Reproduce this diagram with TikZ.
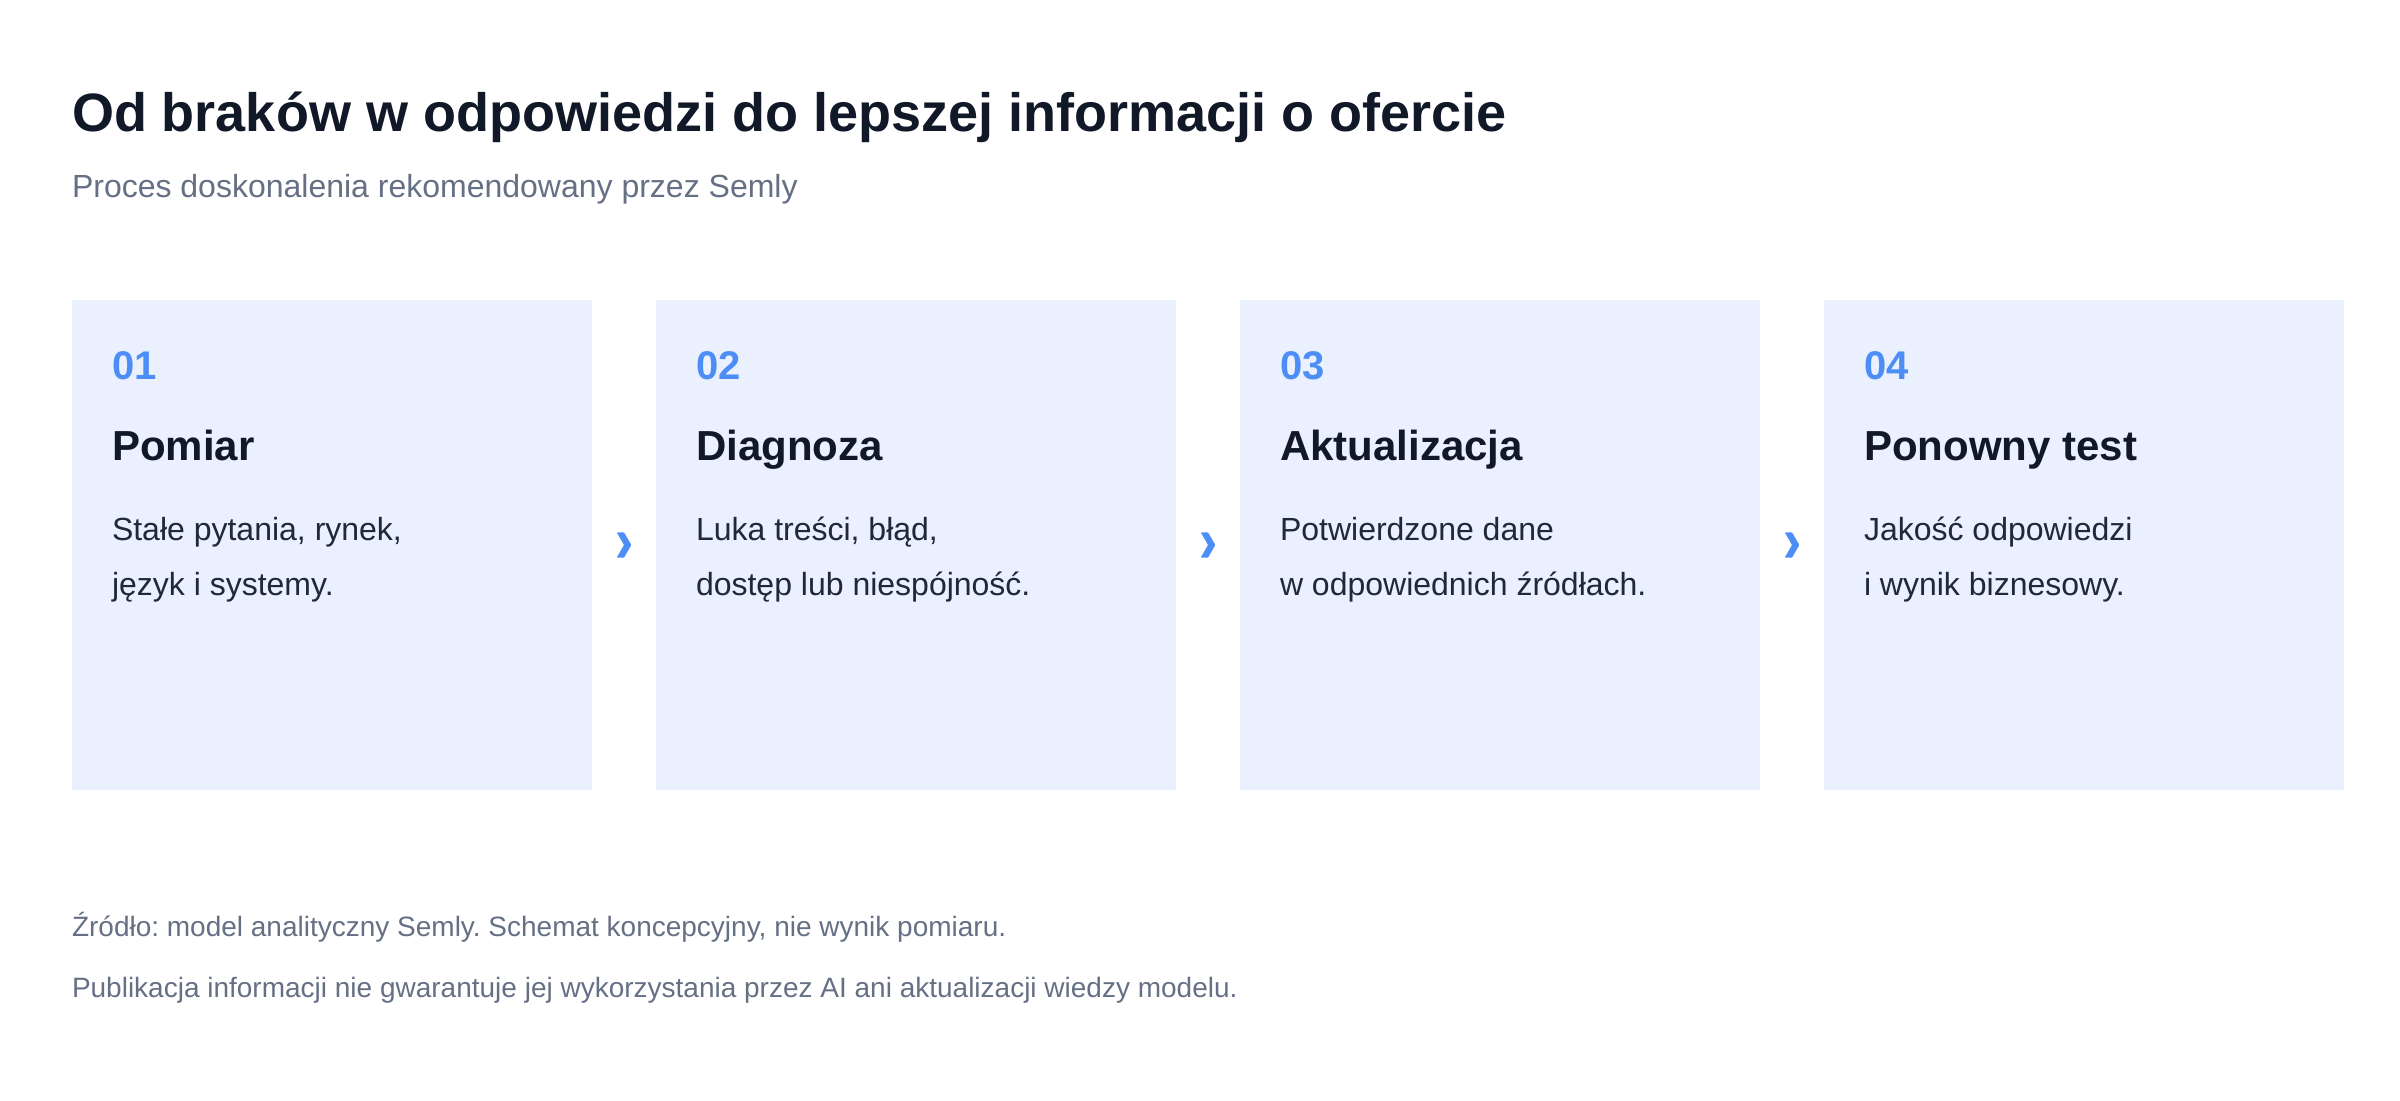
\documentclass[tikz,border=0pt]{standalone}
\usepackage{fontspec}
\setmainfont{Liberation Sans}
\usetikzlibrary{calc}
\frenchspacing
\definecolor{ink}{HTML}{111827}
\definecolor{bodyc}{HTML}{1F2937}
\definecolor{muted}{HTML}{667085}
\definecolor{accent}{HTML}{4C8DF6}
\definecolor{cardc}{HTML}{EAF0FD}
\begin{document}
\begin{tikzpicture}[x=1pt,y=-1pt,
  txt/.style={inner sep=0pt, outer sep=0pt, anchor=base west},
  titletxt/.style={txt, text=ink, font=\fontsize{54}{60}\selectfont\bfseries},
  subtxt/.style={txt, text=muted, font=\fontsize{32}{38}\selectfont},
  numtxt/.style={txt, text=accent, font=\fontsize{40}{46}\selectfont\bfseries},
  headtxt/.style={txt, text=ink, font=\fontsize{42}{48}\selectfont\bfseries},
  bodytxt/.style={txt, text=bodyc, font=\fontsize{32}{38}\selectfont},
  foottxt/.style={txt, text=muted, font=\fontsize{28}{34}\selectfont},
  card/.style={fill=cardc, draw=none, inner sep=0pt, outer sep=0pt, anchor=north west, minimum width=520pt, minimum height=490pt},
  chevfill/.style={fill=accent, draw=none}
]
\useasboundingbox[fill=white] (0,0) rectangle (2400,1100);

\node[titletxt] (title) at (72,131) {Od braków w odpowiedzi do lepszej informacji o ofercie};
\node[subtxt] (subtitle) at (72,197) {Proces doskonalenia rekomendowany przez Semly};

\node[card] (c1) at (72,300) {};
\node[card] (c2) at (656,300) {};
\node[card] (c3) at (1240,300) {};
\node[card] (c4) at (1824,300) {};

\foreach \c/\n/\h/\la/\lb in {
  c1/01/Pomiar/{Stałe pytania, rynek,}/{język i systemy.},
  c2/02/Diagnoza/{Luka treści, błąd,}/{dostęp lub niespójność.},
  c3/03/Aktualizacja/{Potwierdzone dane}/{w odpowiednich źródłach.},
  c4/04/Ponowny test/{Jakość odpowiedzi}/{i wynik biznesowy.}} {
  \node[numtxt] (\c num) at ($(\c.north west)+(40,79)$) {\n};
  \node[headtxt] (\c head) at ($(\c.north west)+(40,160)$) {\h};
  \node[bodytxt] (\c la) at ($(\c.north west)+(40,240)$) {\la};
  \node[bodytxt] (\c lb) at ($(\c.north west)+(40,295)$) {\lb};
}

\foreach \a/\b/\k in {c1/c2/1, c2/c3/2, c3/c4/3} {
  \coordinate (chev\k) at ($(\a.east)!0.5!(\b.west)$);
  \fill[chevfill, rounded corners=0.8pt] ($(chev\k)+(-7.3,-12.7)$) -- ($(chev\k)+(0,-12.7)$) -- ($(chev\k)+(7.3,0)$) -- ($(chev\k)+(0,12.7)$) -- ($(chev\k)+(-7.3,12.7)$) -- ($(chev\k)+(0,0)$) -- cycle;
}

\node[foottxt] (foot1) at (72,936) {Źródło: model analityczny Semly. Schemat koncepcyjny, nie wynik pomiaru.};
\node[foottxt] (foot2) at (72,997) {Publikacja informacji nie gwarantuje jej wykorzystania przez AI ani aktualizacji wiedzy modelu.};
\end{tikzpicture}
\end{document}
